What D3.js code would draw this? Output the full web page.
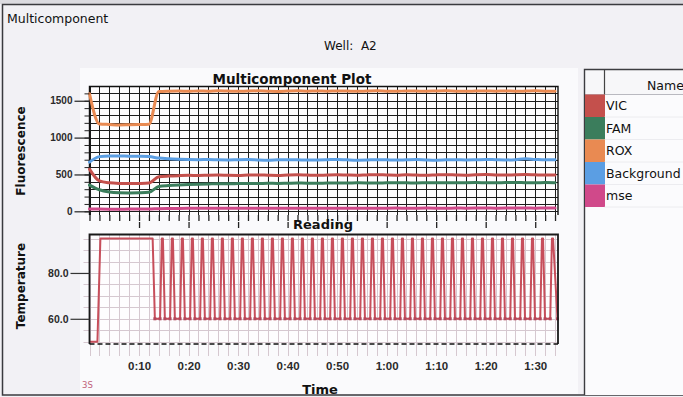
<!DOCTYPE html>
<html>
<head>
<meta charset="utf-8">
<script src="https://cdn.jsdelivr.net/npm/d3@7"></script>
<style>
  html, body { margin: 0; padding: 0; background: #f2f1f5; }
  svg { display: block; }
  text { font-family: "DejaVu Sans", sans-serif; }
  .tick text { font-family: "Liberation Sans", Arial, sans-serif; font-weight: bold; fill: #2a2a2a; }
</style>
</head>
<body>
<svg id="chart" width="683" height="397"></svg>
<script>
// ---- Data -------------------------------------------------------------
// Reading index of each fluorescence sample
const readingIndex = [
   0,  1,  2,  3,  4,  5,  6,  7,
   8,  9, 10, 11, 12, 13, 14, 15,
  16, 17, 18, 19, 20, 21, 22, 23,
  24, 25, 26, 27, 28, 29, 30, 31,
  32, 33, 34, 35, 36, 37, 38, 39,
  40, 41, 42, 43, 44, 45, 46, 47
];

// Multicomponent fluorescence per reading
const vicValues = [
  572, 412, 386, 378, 376, 378, 384, 468,
  478, 484, 488, 486, 490, 492, 488, 486,
  491, 494, 490, 487, 492, 495, 491, 488,
  493, 496, 492, 489, 494, 497, 493, 490,
  495, 492, 489, 494, 497, 493, 490, 495,
  498, 494, 491, 496, 499, 495, 492, 494
];
const famValues = [
  356, 292, 262, 252, 250, 252, 258, 338,
  350, 358, 364, 368, 371, 374, 373, 376,
  378, 377, 380, 379, 381, 383, 382, 380,
  384, 385, 383, 386, 385, 384, 387, 388,
  386, 385, 388, 389, 387, 386, 389, 390,
  388, 387, 390, 391, 389, 388, 390, 389
];
const roxValues = [
  1595, 1185, 1178, 1172, 1175, 1178, 1182, 1625,
  1630, 1632, 1628, 1633, 1630, 1635, 1631, 1628,
  1632, 1634, 1630, 1627, 1631, 1634, 1630, 1632,
  1629, 1633, 1631, 1628, 1632, 1635, 1630, 1628,
  1633, 1631, 1629, 1632, 1634, 1630, 1628, 1631,
  1633, 1630, 1632, 1629, 1631, 1634, 1630, 1628
];
const backgroundValues = [
  668, 742, 752, 750, 748, 746, 742, 722,
  712, 706, 702, 700, 704, 698, 696, 700,
  702, 697, 694, 698, 701, 699, 695, 697,
  700, 703, 698, 694, 696, 700, 698, 695,
  699, 702, 697, 694, 698, 700, 696, 699,
  703, 700, 697, 701, 712, 704, 698, 700
];
const mseValues = [
  32, 30, 29, 29, 30, 30, 31, 36,
  38, 39, 40, 40, 41, 40, 41, 42,
  41, 40, 42, 41, 42, 43, 42, 41,
  42, 43, 42, 41, 43, 42, 43, 44,
  42, 43, 44, 43, 42, 44, 43, 44,
  45, 43, 44, 45, 44, 43, 45, 44
];

const seriesNames  = ["VIC", "FAM", "ROX", "Background", "mse"];
const seriesColors = ["#c4504c", "#3b7d5c", "#e98a52", "#5b9ee3", "#d0498a"];
const seriesValues = [vicValues, famValues, roxValues, backgroundValues, mseValues];

// Axis ticks
const fluorTicks = [0, 500, 1000, 1500];
const tempTicks  = [60, 80];
const timeTicks  = [10, 20, 30, 40, 50, 60, 70, 80, 90];   // minutes

// Thermal run method: initial holds, then a 40-cycle two-step stage
const holdSteps    = [[0, 50], [1.6, 50], [2.2, 95], [12.75, 95]];   // [minute, °C]
const cycleSteps   = [[0, 60], [1.05, 60], [1.4, 95], [1.62, 95]];   // [offset min, °C]
const cycleStart   = 13.2;
const cyclePeriod  = 2.02;
const cycleCount   = 40;
const runEnd       = [94.5, 60];

// ---- Layout -----------------------------------------------------------
const svg = d3.select("#chart");
const W = 683, H = 397;

const plotL = 89.5, plotR = 558;
const fTop = 86, fBot = 215;
const tTop = 234, tBot = 344;

// window chrome
svg.append("rect").attr("x", 0).attr("y", 0).attr("width", W).attr("height", H).attr("fill", "#f2f1f5");
svg.append("rect").attr("x", 0).attr("y", 0).attr("width", W).attr("height", 4).attr("fill", "#dcdbe0");
svg.append("rect").attr("x", 80).attr("y", 68).attr("width", 498).attr("height", 326).attr("fill", "#fafafc");
svg.append("rect").attr("x", 2.5).attr("y", 4.5).attr("width", W + 5).attr("height", 390.5)
  .attr("fill", "none").attr("stroke", "#3a3a3e").attr("stroke-width", 1.5);

svg.append("text").attr("x", 7).attr("y", 23).attr("font-size", 12.5).attr("fill", "#111")
  .text("Multicomponent");
svg.append("text").attr("x", 324).attr("y", 50).attr("font-size", 12).attr("fill", "#111")
  .attr("xml:space", "preserve").text("Well:  A2");

// ---- Fluorescence plot ------------------------------------------------
const xR = d3.scaleLinear().domain([0, 47.3]).range([plotL, plotR]);
const yF = d3.scaleLinear().domain([-50, 1700]).range([fBot, fTop]);

svg.append("rect").attr("x", plotL).attr("y", fTop).attr("width", plotR - plotL).attr("height", fBot - fTop)
  .attr("fill", "#fefdfe");

const fGrid = svg.append("g").attr("stroke", "#1c1c1c").attr("stroke-width", 1);
fGrid.selectAll("line.h").data(d3.range(0, 1700, 100)).join("line")
  .attr("x1", plotL).attr("x2", plotR)
  .attr("y1", d => Math.round(yF(d)) + 0.5).attr("y2", d => Math.round(yF(d)) + 0.5);
fGrid.selectAll("line.v").data(readingIndex).join("line")
  .attr("x1", d => Math.round(xR(d)) + 0.5).attr("x2", d => Math.round(xR(d)) + 0.5)
  .attr("y1", fTop).attr("y2", fBot);

// frame (top, left, right)
svg.append("path")
  .attr("d", `M${plotL},${fBot}V${fTop + 0.5}H${plotR}V${fBot}`)
  .attr("fill", "none").attr("stroke", "#111").attr("stroke-width", 1.4);

// series
const fLine = d3.line().x((d, i) => xR(readingIndex[i])).y(d => yF(d)).curve(d3.curveMonotoneX);
svg.append("g").selectAll("path").data(seriesValues.map((v, i) => ({ v, c: seriesColors[i] })).reverse())
  .join("path")
  .attr("d", d => fLine(d.v))
  .attr("fill", "none").attr("stroke", d => d.c).attr("stroke-width", 3)
  .attr("stroke-linejoin", "round").attr("stroke-linecap", "round");

// y axis
const fAxis = svg.append("g").attr("transform", `translate(${plotL},0)`)
  .call(d3.axisLeft(yF).tickValues(fluorTicks).tickSize(15).tickPadding(2).tickFormat(d3.format("d")));
fAxis.select(".domain").remove();
fAxis.selectAll(".tick line").attr("stroke", "#222").attr("stroke-width", 1.2);
fAxis.selectAll(".tick text").attr("font-size", 10);
const fMinor = svg.append("g").attr("transform", `translate(${plotL},0)`)
  .call(d3.axisLeft(yF).tickValues(d3.range(0, 1700, 100)).tickSize(5).tickFormat(""));
fMinor.select(".domain").remove();
fMinor.selectAll(".tick line").attr("stroke", "#222");

// reading ticks
const rMinor = svg.append("g").attr("transform", `translate(0,${fBot})`)
  .call(d3.axisBottom(xR).tickValues(readingIndex).tickSize(6).tickFormat(""));
rMinor.select(".domain").remove();
rMinor.selectAll(".tick line").attr("stroke", "#222").attr("stroke-width", 1.3);
const rMajor = svg.append("g").attr("transform", `translate(0,${fBot + 7})`)
  .call(d3.axisBottom(xR).tickValues(d3.range(5, 47, 5)).tickSize(6).tickFormat(""));
rMajor.select(".domain").remove();
rMajor.selectAll(".tick line").attr("stroke", "#222").attr("stroke-width", 1.3);

svg.append("text").attr("x", 292).attr("y", 84).attr("text-anchor", "middle")
  .attr("font-size", 13.5).attr("font-weight", "bold").attr("fill", "#111").text("Multicomponent Plot");
svg.append("text").attr("x", 323).attr("y", 228.5).attr("text-anchor", "middle")
  .attr("font-size", 13).attr("font-weight", "bold").attr("fill", "#111").text("Reading");
svg.append("text").attr("transform", "translate(24.5,151) rotate(-90)").attr("text-anchor", "middle")
  .attr("font-size", 12).attr("font-weight", "bold").attr("fill", "#111").text("Fluorescence");

// ---- Temperature plot -------------------------------------------------
const xT = d3.scaleLinear().domain([0, 94.6]).range([plotL, plotR]);
const yT = d3.scaleLinear().domain([49, 97]).range([tBot, tTop]);

svg.append("rect").attr("x", plotL).attr("y", tTop).attr("width", plotR - plotL).attr("height", tBot - tTop)
  .attr("fill", "#fefdfe");

const tGrid = svg.append("g").attr("stroke", "#d6c8d0").attr("stroke-width", 1);
tGrid.selectAll("line.v").data(d3.range(0, 94.6, 2)).join("line")
  .attr("x1", d => Math.round(xT(d)) + 0.5).attr("x2", d => Math.round(xT(d)) + 0.5)
  .attr("y1", tTop).attr("y2", tBot + 12);
tGrid.selectAll("line.h").data(d3.range(50, 96, 5)).join("line")
  .attr("x1", plotL - 6).attr("x2", plotR)
  .attr("y1", d => Math.round(yT(d)) + 0.5).attr("y2", d => Math.round(yT(d)) + 0.5);

// run profile from the method
const profile = holdSteps.slice();
for (let c = 0; c < cycleCount; c++) {
  const t0 = cycleStart + c * cyclePeriod;
  cycleSteps.forEach(([dt, temp]) => profile.push([t0 + dt, temp]));
}
profile.push(runEnd);

const tLine = d3.line().x(d => xT(d[0])).y(d => yT(d[1]));
svg.append("path").attr("d", tLine(profile))
  .attr("fill", "none").attr("stroke", "#c74e5b").attr("stroke-width", 2).attr("stroke-linejoin", "round");

// data-collection markers on the anneal step
const marks = profile.filter(d => d[1] === 60);
svg.append("g").selectAll("rect").data(marks).join("rect")
  .attr("x", d => xT(d[0]) - 1.5).attr("y", d => yT(d[1]) - 1.5)
  .attr("width", 3).attr("height", 3).attr("fill", "#b2475a");

// frame: solid top/left/right, dashed bottom
svg.append("path")
  .attr("d", `M${plotL},${tBot}V${tTop + 0.5}H${plotR}V${tBot}`)
  .attr("fill", "none").attr("stroke", "#1a1a1a").attr("stroke-width", 1.8);
svg.append("line").attr("x1", plotL).attr("x2", plotR).attr("y1", tBot).attr("y2", tBot)
  .attr("stroke", "#111").attr("stroke-width", 1.6).attr("stroke-dasharray", "5,3");

const tAxis = svg.append("g").attr("transform", `translate(${plotL},0)`)
  .call(d3.axisLeft(yT).tickValues(tempTicks).tickSize(19).tickPadding(2).tickFormat(d3.format(".1f")));
tAxis.select(".domain").remove();
tAxis.selectAll(".tick line").attr("stroke", "#333").attr("stroke-width", 1.2);
tAxis.selectAll(".tick text").attr("font-size", 10.5);

const timeFmt = m => `${Math.floor(m / 60)}:${String(m % 60).padStart(2, "0")}`;
const xAxis = svg.append("g").attr("transform", `translate(0,${tBot})`)
  .call(d3.axisBottom(xT).tickValues(timeTicks).tickSize(0).tickPadding(18).tickFormat(timeFmt));
xAxis.select(".domain").remove();
xAxis.selectAll(".tick text").attr("font-size", 11.5);

svg.append("text").attr("x", 320).attr("y", 394).attr("text-anchor", "middle")
  .attr("font-size", 13).attr("font-weight", "bold").attr("fill", "#111").text("Time");
svg.append("text").attr("transform", "translate(24.5,286) rotate(-90)").attr("text-anchor", "middle")
  .attr("font-size", 12).attr("font-weight", "bold").attr("fill", "#111").text("Temperature");
svg.append("text").attr("x", 82).attr("y", 388).attr("font-size", 8.5).attr("fill", "#c0607a").text("3S");

// ---- Legend table -----------------------------------------------------
const tabL = 584.5, tabT = 69.5, colW = 20, headH = 25, rowH = 22.5;
svg.append("rect").attr("x", tabL).attr("y", tabT).attr("width", W - tabL + 5).attr("height", 395 - tabT)
  .attr("fill", "#fbfbfd");
svg.append("rect").attr("x", tabL).attr("y", tabT).attr("width", W - tabL + 5).attr("height", headH)
  .attr("fill", "#f7f7f9");
svg.append("line").attr("x1", tabL).attr("x2", W).attr("y1", tabT + headH).attr("y2", tabT + headH)
  .attr("stroke", "#b9b9c0");
svg.append("line").attr("x1", tabL + colW).attr("x2", tabL + colW).attr("y1", tabT).attr("y2", tabT + headH)
  .attr("stroke", "#444").attr("stroke-width", 1.2);
svg.append("path").attr("d", `M${tabL},395V${tabT}H${W}`)
  .attr("fill", "none").attr("stroke", "#3c3c40").attr("stroke-width", 1.4);
svg.append("text").attr("x", 647).attr("y", tabT + 20).attr("font-size", 12.5).attr("fill", "#111").text("Name");

const rows = svg.append("g").selectAll("g").data(seriesNames).join("g")
  .attr("transform", (d, i) => `translate(0,${tabT + headH + i * rowH})`);
rows.append("rect").attr("x", tabL + 0.5).attr("y", 0).attr("width", colW).attr("height", rowH)
  .attr("fill", (d, i) => seriesColors[i]);
rows.append("line").attr("x1", tabL + colW).attr("x2", W).attr("y1", rowH).attr("y2", rowH)
  .attr("stroke", "#dcdce2").attr("stroke-dasharray", "1,1");
rows.append("text").attr("x", tabL + colW + 1.5).attr("y", rowH / 2 + 4.5)
  .attr("font-size", 12.5).attr("fill", "#111").text(d => d);
</script>
</body>
</html>
